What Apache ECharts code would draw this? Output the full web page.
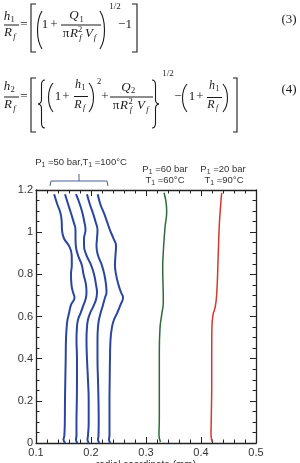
<!DOCTYPE html>
<html><head><meta charset="utf-8">
<script src="https://cdn.jsdelivr.net/npm/echarts@6/dist/echarts.min.js"></script>
<style>html,body{margin:0;padding:0;background:#fff}#c{width:300px;height:463px}</style>
</head><body><div id="c"></div>
<script>
// ---- data (radial coordinate in mm vs. height) ----
const xTickLabels = ['0.1','0.2','0.3','0.4','0.5'];
const yTickLabels = ['0','0.2','0.4','0.6','0.8','1','1.2'];

const yBlue = [1.18,1.13,1.09,1.05,1.01,0.97,0.935,0.89,0.845,0.8,0.75,0.715,0.69,0.655,0.615,0.585,0.55,0.49,0.4,0.3,0.2,0.1,0.035,0.015,0];
const xBlue1 = [0.133,0.139,0.1445,0.1467,0.1473,0.1509,0.160,0.1649,0.1651,0.1636,0.1645,0.1673,0.170,0.1636,0.160,0.1573,0.1558,0.1545,0.154,0.1533,0.1527,0.1524,0.1515,0.150,0.1536];
const xBlue2 = [0.1527,0.1587,0.1636,0.1682,0.1718,0.1718,0.1724,0.1764,0.1831,0.1864,0.1909,0.1918,0.1909,0.1864,0.1809,0.1764,0.1745,0.1736,0.1745,0.1745,0.1742,0.1736,0.1736,0.1727,0.1755];
const xBlue3 = [0.1727,0.18,0.1845,0.1878,0.19,0.1873,0.1873,0.1918,0.20,0.2055,0.2091,0.2109,0.21,0.2055,0.1982,0.1945,0.1927,0.1918,0.1927,0.1945,0.1958,0.1958,0.1945,0.1936,0.1964];
const xBlue4 = [0.1927,0.1982,0.2036,0.2082,0.2118,0.2109,0.21,0.2127,0.2195,0.2242,0.2273,0.2282,0.2255,0.2218,0.2173,0.2145,0.2127,0.2118,0.2118,0.2127,0.2136,0.214,0.2136,0.2127,0.2155];
const xBlue5 = [0.2122,0.2173,0.2236,0.2291,0.2345,0.2409,0.2455,0.2445,0.2436,0.2455,0.25,0.2545,0.2582,0.2536,0.2473,0.2418,0.2382,0.2355,0.2345,0.234,0.2336,0.2336,0.2336,0.2327,0.2355];

const yGreen = [1.187,1.144,1.097,1.021,0.907,0.831,0.670,0.608,0.546,0.432,0.275,0.119,0.038,0.005];
const xGreen = [0.3327,0.3364,0.3376,0.3345,0.3315,0.3304,0.3315,0.3285,0.3255,0.3242,0.3242,0.3242,0.3236,0.3264];

const yRed = [1.187,1.130,1.035,0.907,0.703,0.641,0.608,0.546,0.432,0.275,0.119,0.038,0.005];
const xRed = [0.4376,0.4358,0.4333,0.4315,0.4285,0.4255,0.4218,0.4198,0.4195,0.4195,0.4187,0.4182,0.4205];

// ---- helpers ----
const SERIF = '"Liberation Serif","Times New Roman",serif';
const SANS = '"Liberation Sans",Arial,sans-serif';
const INK = '#1a1a1a';
const pair = (xs, ys) => ys.map((y, i) => [xs[i], y]);
function T(x,y,text,size,italic,color,font){return {type:'text',silent:true,x:x,y:y,style:{text:text,fontSize:size,fontFamily:font||SERIF,fontStyle:italic?'italic':'normal',fill:color||INK,align:'center',verticalAlign:'middle'}};}
function PL(pts,w,c){return {type:'polyline',silent:true,shape:{points:pts},style:{stroke:c||INK,lineWidth:w||1.1,fill:null}};}
function LN(x1,y1,x2,y2,w,c){return {type:'line',silent:true,shape:{x1:x1,y1:y1,x2:x2,y2:y2},style:{stroke:c||INK,lineWidth:w||1}};}
function BZ(x1,y1,x2,y2,a,b,c,d,w){return {type:'bezierCurve',silent:true,shape:{x1:x1,y1:y1,x2:x2,y2:y2,cpx1:a,cpy1:b,cpx2:c,cpy2:d},style:{stroke:INK,lineWidth:w||1.1,fill:null}};}
function parenL(x,y1,y2){const w=6,h=y2-y1;return BZ(x+w,y1,x+w,y2,x,y1+h*0.25,x,y1+h*0.75);}
function parenR(x,y1,y2){const w=6,h=y2-y1;return BZ(x,y1,x,y2,x+w,y1+h*0.25,x+w,y1+h*0.75);}
function braceL(x,y1,y2){const m=(y1+y2)/2,c=x+3.5;return [
  BZ(x+7,y1,c,y1+5,c+0.5,y1,c,y1+2),LN(c,y1+5,c,m-4,1.1),BZ(c,m-4,x,m,c,m-1,x+1,m),
  BZ(x,m,c,m+4,x+1,m,c,m+1),LN(c,m+4,c,y2-5,1.1),BZ(c,y2-5,x+7,y2,c,y2-2,c+0.5,y2)];}
function braceR(x,y1,y2){const m=(y1+y2)/2,c=x-3.5;return [
  BZ(x-7,y1,c,y1+5,c-0.5,y1,c,y1+2),LN(c,y1+5,c,m-4,1.1),BZ(c,m-4,x,m,c,m-1,x-1,m),
  BZ(x,m,c,m+4,x-1,m,c,m+1),LN(c,m+4,c,y2-5,1.1),BZ(c,y2-5,x-7,y2,c,y2-2,c-0.5,y2)];}
const mctx = document.createElement('canvas').getContext('2d');
function tw(t,size,font,it){mctx.font=(it?'italic ':'')+size+'px '+font;return mctx.measureText(t).width;}
function seq(cx,y,segs,size,font,color){
  const szs=segs.map(s=>s[1]?size*0.72:size);
  const ws=segs.map((s,i)=>tw(s[0],szs[i],font,s[2]));
  let x=cx-ws.reduce((a,b)=>a+b,0)/2;const out=[];
  segs.forEach((s,i)=>{const dy=s[1]===1?size*0.32:(s[1]===2?-size*0.35:0);
    out.push({type:'text',silent:true,x:x,y:y+dy,style:{text:s[0],fontSize:szs[i],fontFamily:font,fontStyle:s[2]?'italic':'normal',fill:color,align:'left',verticalAlign:'middle'}});x+=ws[i];});
  return out;
}

// ---- equations ----
const eq = [
  T(7,17,'h',13,true),T(12.5,20,'1',8.5),LN(4,25,19,25),T(8,33,'R',13,true),T(14.5,36.5,'f',8.5,true),
  T(24,25,'=',13),PL([[36,4],[31,4],[31,52],[36,52]]),parenL(36,11,49),
  T(45,25,'1',13),T(54,25,'+',13),
  T(74,16,'Q',13,true),T(81.5,19.5,'1',8.5),LN(61,25,101,25),
  T(66,34,'π',13),T(74,34,'R',13,true),T(80,30,'2',8.5),T(80.5,37.5,'f',8.5,true),T(89,34,'V',13,true),T(95,37.5,'f',8.5,true),
  parenR(100,11,49),T(115,7,'1/2',9),T(125,25,'−1',13),PL([[132,4],[137,4],[137,52],[132,52]]),
  T(289,20,'(3)',13),

  T(7,87,'h',13,true),T(12.5,90,'2',8.5),LN(4,97,19,97),T(8,105,'R',13,true),T(14.5,108.5,'f',8.5,true),
  T(24,97,'=',13),PL([[36,78],[31,78],[31,132],[36,132]]),
  ...braceL(38,80,128),parenL(47,83,112),
  T(58,97,'1',13),T(66,97,'+',13),
  T(78,85,'h',12,true),T(83.5,88,'1',8),LN(74,96.5,88,96.5),T(78,105,'R',12,true),T(84,108,'f',8,true),
  parenR(89,83,112),T(99,82,'2',8.5),T(105,97,'+',13),
  T(126,88,'Q',13,true),T(133,91,'2',8.5),LN(110,97,153,97),
  T(116,106,'π',13),T(124,106,'R',13,true),T(130.5,102,'2',8.5),T(131,109.5,'f',8.5,true),T(141,106,'V',13,true),T(147.5,109.5,'f',8.5,true),
  ...braceR(159,80,128),T(168,74,'1/2',9),T(178,97,'−',13),
  parenL(181,84,112),T(192,97,'1',13),T(200,97,'+',13),
  T(212,86,'h',12,true),T(217.5,89,'1',8),LN(207,97.5,222,97.5),T(211,105,'R',12,true),T(217,108,'f',8,true),
  parenR(223,84,112),PL([[233,78],[237,78],[237,132],[233,132]]),
  T(289,90,'(4)',13)
];

// ---- annotations ----
const AC = '#333';
const ann = [
  ...seq(81,162,[['P'],['1',1],[' =50 bar,T'],['1',1],[' =100°C']],9.5,SANS,AC),
  PL([[50,186],[51,181],[107,181],[108,186]],1,'#4d5f96'),LN(79,181,79,174,1,'#4d5f96'),
  ...seq(165,169,[['P'],['1',1],[' =60 bar']],9.5,SANS,AC),
  ...seq(165,180,[['T'],['1',1],[' =60°C']],9.5,SANS,AC),
  ...seq(223,169,[['P'],['1',1],[' =20 bar']],9.5,SANS,AC),
  ...seq(224,180,[['T'],['1',1],[' =90°C']],9.5,SANS,AC)
];

const xMin = +xTickLabels[0], xMax = +xTickLabels[xTickLabels.length-1];
const yMin = +yTickLabels[0], yMax = +yTickLabels[yTickLabels.length-1];
const lab = (arr) => (v) => { const f = arr.find(s => Math.abs(+s - v) < 1e-6); return f === undefined ? '' : f; };
const axisBase = {
  type:'value',
  axisLine:{show:true,onZero:false,lineStyle:{color:'#222',width:1.3}},
  axisTick:{show:true,inside:true,length:6,lineStyle:{color:'#222',width:1}},
  minorTick:{show:true,length:3.5,lineStyle:{color:'#222',width:1}},
  splitLine:{show:false},minorSplitLine:{show:false}
};
const xAx = (pos, showLabel) => Object.assign({}, axisBase, {
  position:pos,min:xMin,max:xMax,interval:0.1,
  minorTick:Object.assign({}, axisBase.minorTick, {splitNumber:5}),
  axisLabel:{show:showLabel,margin:4,fontSize:11,color:'#333',fontFamily:SANS,showMinLabel:true,showMaxLabel:true,formatter:lab(xTickLabels)}
});
const yAx = (pos, showLabel) => Object.assign({}, axisBase, {
  position:pos,min:yMin,max:yMax,interval:0.2,
  minorTick:Object.assign({}, axisBase.minorTick, {splitNumber:4}),
  axisLabel:{show:showLabel,margin:3,fontSize:11,color:'#333',fontFamily:SANS,showMinLabel:true,showMaxLabel:true,formatter:lab(yTickLabels)}
});
const xa0 = xAx('bottom', true);
xa0.name = 'radial coordinate (mm)'; xa0.nameLocation = 'middle'; xa0.nameGap = 17; xa0.nameMoveOverlap = false;
xa0.nameTextStyle = {fontSize:10,color:'#333',fontFamily:SANS,verticalAlign:'top'};

const line = (xs, ys, color, w) => ({type:'line',data:pair(xs, ys),showSymbol:false,smooth:0.5,
  lineStyle:{color:color,width:w},itemStyle:{color:color},silent:true,animation:false,clip:false});

const chart = echarts.init(document.getElementById('c'), null, {renderer:'canvas'});
chart.setOption({
  animation:false,
  backgroundColor:'#fff',
  grid:{left:36,right:44,top:190,bottom:20,containLabel:false,outerBoundsMode:'none'},
  xAxis:[xa0, xAx('top', false)],
  yAxis:[yAx('left', true), yAx('right', false)],
  series:[
    line(xBlue1,yBlue,'#2a46a0',2),
    line(xBlue2,yBlue,'#2a46a0',2),
    line(xBlue3,yBlue,'#2a46a0',2),
    line(xBlue4,yBlue,'#2a46a0',2),
    line(xBlue5,yBlue,'#2a46a0',2),
    line(xGreen,yGreen,'#2e6b3a',1.5),
    line(xRed,yRed,'#d23a2e',1.5)
  ],
  graphic:{elements:eq.concat(ann)}
});
</script></body></html>
